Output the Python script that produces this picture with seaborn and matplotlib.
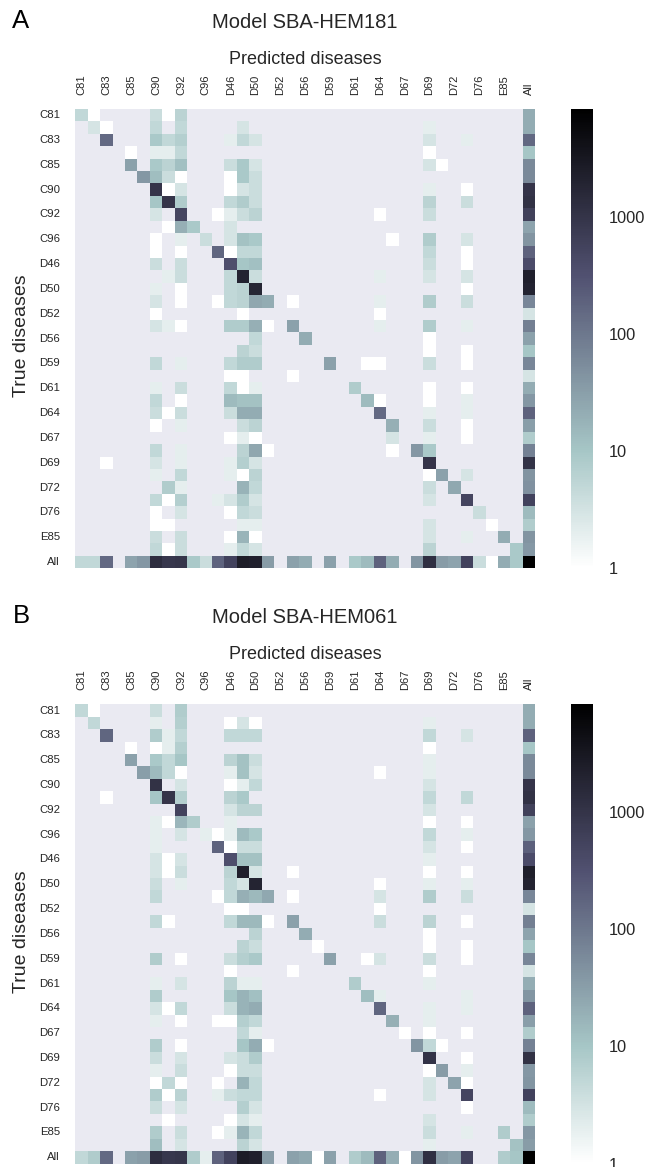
import numpy as np
import pandas as pd
import seaborn as sns
import matplotlib
matplotlib.use("Agg")
import matplotlib.pyplot as plt
from matplotlib.colors import LogNorm
from matplotlib.ticker import FixedLocator, FuncFormatter, NullLocator

categories = ["C81","C82","C83","C84","C85","C88","C90","C91","C92","C93","C96","D45","D46","D47","D50","D51",
              "D52","D53","D56","D57","D59","D60","D61","D63","D64","D65","D67","D68","D69","D70","D72","D75",
              "D76","D77","E85","E88","All"]

# row index -> {column index: count}; cells not listed are empty
counts_181 = {
 0:{0:5,1:1,6:4,7:1,8:6,36:22},
 1:{1:3,2:1,6:5,8:5,13:3,28:2,36:22},
 2:{2:150,6:9,7:5,8:7,12:2,13:5,14:3,28:3,31:2,36:160},
 3:{4:1,6:2,7:2,8:5,28:1,36:10},
 4:{4:30,6:9,7:6,8:12,12:4,13:9,14:3,28:3,29:1,36:60},
 5:{5:40,6:13,7:4,8:1,12:1,13:9,14:4,36:60},
 6:{6:1000,7:1,8:3,12:1,13:3,14:4,28:2,31:1,36:1000},
 7:{6:10,7:1000,8:8,12:5,13:8,14:4,28:6,31:4,36:1100},
 8:{6:3,8:500,11:1,12:2,13:4,14:6,24:1,28:4,36:600},
 9:{7:1,8:20,9:9,12:3,36:28},
 10:{6:1,8:2,10:4,12:3,13:11,14:9,25:1,28:8,31:3,36:45},
 11:{6:1,8:1,11:170,12:1,13:5,14:5,28:5,31:1,36:190},
 12:{6:4,8:4,12:350,13:10,14:12,28:4,31:1,36:400},
 13:{7:2,8:4,12:5,13:2000,14:4,24:2,28:3,31:3,36:2200},
 14:{6:2,8:1,12:5,13:6,14:1800,31:1,36:2000},
 15:{6:3,8:1,11:1,12:5,13:6,14:25,15:22,17:1,24:2,28:8,31:4,36:65},
 16:{6:1,13:1,24:1,36:3},
 17:{6:3,7:2,8:1,12:8,13:8,14:20,15:1,17:30,24:2,28:8,31:2,36:80},
 18:{14:5,18:22,28:1,36:30},
 19:{13:6,14:4,28:1,31:1,36:10},
 20:{6:5,8:2,12:5,13:8,14:8,20:30,23:1,24:1,28:4,31:1,36:65},
 21:{12:1,13:1,17:1,36:3},
 22:{6:2,8:4,12:5,13:1,14:2,22:8,28:1,31:1,36:22},
 23:{6:5,8:1,12:14,13:11,14:11,23:14,24:1,28:1,31:2,36:40},
 24:{6:4,7:1,8:4,12:4,13:22,14:22,24:150,28:2,31:2,36:190},
 25:{6:1,8:2,13:4,14:6,25:20,28:4,31:1,36:32},
 26:{12:1,13:2,14:1,25:3,28:2,31:1,36:8},
 27:{6:5,8:2,13:6,14:25,15:1,25:1,27:40,28:9,36:75},
 28:{2:1,6:3,8:2,12:2,13:7,14:3,28:1000,36:1050},
 29:{6:2,8:5,12:2,13:1,14:6,28:1,29:30,31:3,36:45},
 30:{7:8,8:2,13:18,14:5,28:4,30:24,36:48},
 31:{6:5,7:1,8:7,11:2,12:3,13:8,14:3,28:3,31:500,36:550},
 32:{6:1,8:3,12:1,13:5,14:4,32:4,36:14},
 33:{6:1,7:1,13:2,14:2,28:3,33:1,36:8},
 34:{6:4,8:4,12:1,13:17,14:1,28:3,31:2,34:22,36:45},
 35:{6:5,7:1,8:4,12:2,13:5,14:3,28:6,35:9,36:38},
 36:{0:5,1:5,2:150,4:28,5:40,6:1300,7:900,8:950,9:9,10:4,11:180,12:550,13:2500,14:2200,15:35,17:30,18:22,
     20:30,22:9,23:14,24:190,25:22,27:42,28:1200,29:35,30:28,31:550,32:4,33:1,34:22,35:9,36:8300},
}

counts_061 = {
 0:{0:5,1:1,6:4,8:8,36:22},
 1:{1:5,6:2,8:7,12:1,13:3,14:1,28:2,36:22},
 2:{2:170,6:8,7:2,8:5,12:5,13:5,14:5,28:5,31:3,36:190},
 3:{4:1,6:1,7:2,8:7,28:1,36:10},
 4:{4:30,6:9,7:5,8:10,12:6,13:11,14:4,28:2,36:60},
 5:{5:32,6:14,7:5,8:1,12:2,13:11,14:3,24:1,28:2,36:60},
 6:{6:1100,8:3,12:1,13:2,14:5,28:3,36:1000},
 7:{2:1,6:10,7:1000,8:7,12:6,13:9,28:5,31:5,36:1100},
 8:{8:550,12:3,13:6,14:6,28:3,36:600},
 9:{6:2,7:1,8:16,9:8,12:2,28:1,31:1,36:30},
 10:{6:2,8:3,10:2,11:1,12:2,13:14,14:9,28:5,31:2,36:40},
 11:{6:2,11:180,12:1,13:4,14:4,28:3,31:1,36:200},
 12:{6:3,7:1,8:3,12:350,13:11,14:11,28:2,36:400},
 13:{6:3,7:1,8:4,12:6,13:2300,14:3,17:1,28:1,31:1,36:2400},
 14:{6:4,8:2,12:5,13:3,14:1900,24:1,28:2,31:2,36:2000},
 15:{6:5,11:1,12:5,13:20,14:15,15:24,17:1,24:3,28:8,31:4,36:65},
 16:{12:1,13:1,24:1,36:3},
 17:{6:5,7:1,12:5,13:15,14:15,15:1,17:30,24:4,28:6,31:1,36:80},
 18:{14:6,18:22,28:1,36:28},
 19:{13:6,14:4,19:1,28:1,31:1,36:10},
 20:{6:8,8:1,12:4,13:7,14:9,20:30,23:1,24:3,28:4,31:1,36:65},
 21:{12:1,17:1,28:1,36:3},
 22:{6:2,8:3,12:6,13:2,14:2,22:8,28:2,36:21},
 23:{6:8,12:10,13:18,14:12,23:13,24:2,31:2,36:42},
 24:{6:3,7:1,8:5,12:4,13:18,14:22,24:170,28:2,31:2,36:190},
 25:{6:2,8:1,11:1,12:1,13:7,14:5,25:20,28:2,36:32},
 26:{13:5,14:2,26:1,28:1,31:1,36:8},
 27:{6:8,8:1,13:10,14:22,15:1,27:42,28:5,29:1,36:75},
 28:{6:4,8:3,12:3,13:4,14:8,28:1050,31:1,36:1100},
 29:{6:2,8:4,12:1,13:4,14:4,28:1,29:35,31:2,36:40},
 30:{6:1,7:5,8:1,11:1,13:18,14:5,28:3,30:28,31:1,36:42},
 31:{6:8,7:1,8:6,11:2,12:4,13:5,14:5,24:1,28:3,31:500,36:550},
 32:{6:4,8:3,13:7,14:3,31:1,36:14},
 33:{7:1,12:1,13:3,14:2,28:3,36:8},
 34:{6:8,8:4,11:1,12:2,13:17,14:5,28:4,31:2,34:8,36:40},
 35:{6:13,8:3,13:6,14:3,28:2,35:11,36:35},
 36:{0:5,1:8,2:150,4:30,5:35,6:1300,7:900,8:950,9:8,10:2,11:190,12:550,13:2600,14:2300,15:35,17:30,18:24,
     19:1,20:30,22:8,23:14,24:190,25:21,26:1,27:42,28:1200,29:35,30:28,31:550,34:8,35:10,36:8300},
}

panels = [("A", "Model SBA-HEM181", counts_181), ("B", "Model SBA-HEM061", counts_061)]
tops_px = [109.0, 704.3]

W, H = 646, 1167
AX_L, AX_W, AX_H = 75.3, 460.0, 459.2
CB_L, CB_W = 570.7, 22.6
VMAX = 8300

sns.set_theme(style="darkgrid")
plt.rcParams["font.family"] = ["Liberation Sans", "DejaVu Sans"]
DARK = "#262626"

fig = plt.figure(figsize=(W / 100, H / 100), dpi=100, facecolor="white")

for (letter, title, counts), top in zip(panels, tops_px):
    df = pd.DataFrame(np.nan, index=categories, columns=categories)
    for r, row in counts.items():
        for c, v in row.items():
            df.iat[r, c] = v

    ax = fig.add_axes([AX_L / W, 1 - (top + AX_H) / H, AX_W / W, AX_H / H])
    cax = fig.add_axes([CB_L / W, 1 - (top + AX_H) / H, CB_W / W, AX_H / H])
    sns.heatmap(df, ax=ax, cbar_ax=cax, cmap="bone_r", norm=LogNorm(vmin=1, vmax=VMAX),
                mask=df.isna(), xticklabels=2, yticklabels=2, square=False)
    ax.set_facecolor("#EAEAF2")
    ax.grid(False)
    ax.xaxis.tick_top()
    ax.tick_params(axis="x", labelrotation=90, labelsize=8, length=0, pad=10, labelcolor=DARK)
    ax.tick_params(axis="y", labelrotation=0, labelsize=8.2, length=0, pad=11, labelcolor=DARK)
    ax.set_xlabel("")
    ax.set_ylabel("")
    for t in ax.get_yticklabels():
        t.set_va("center")

    cax.yaxis.set_major_locator(FixedLocator([1, 10, 100, 1000]))
    cax.yaxis.set_minor_locator(NullLocator())
    cax.yaxis.set_major_formatter(FuncFormatter(lambda v, _: f"{int(v)}"))
    cax.tick_params(axis="y", which="both", length=0, labelsize=11.8, pad=11, labelcolor=DARK)

    fig.text(305 / W, 1 - (top - 87) / H, title, ha="center", va="center", fontsize=14.5, color=DARK)
    fig.text(305 / W, 1 - (top - 50) / H, "Predicted diseases", ha="center", va="center", fontsize=13, color=DARK)
    fig.text(22 / W, 1 - (top + 227) / H, "True diseases", ha="center", va="center", rotation=90,
             fontsize=14, color=DARK)
    fig.text(21 / W, 1 - (top - 88) / H, letter, ha="center", va="center", fontsize=18.5, color="black")

fig.savefig("out.png", dpi=100)
